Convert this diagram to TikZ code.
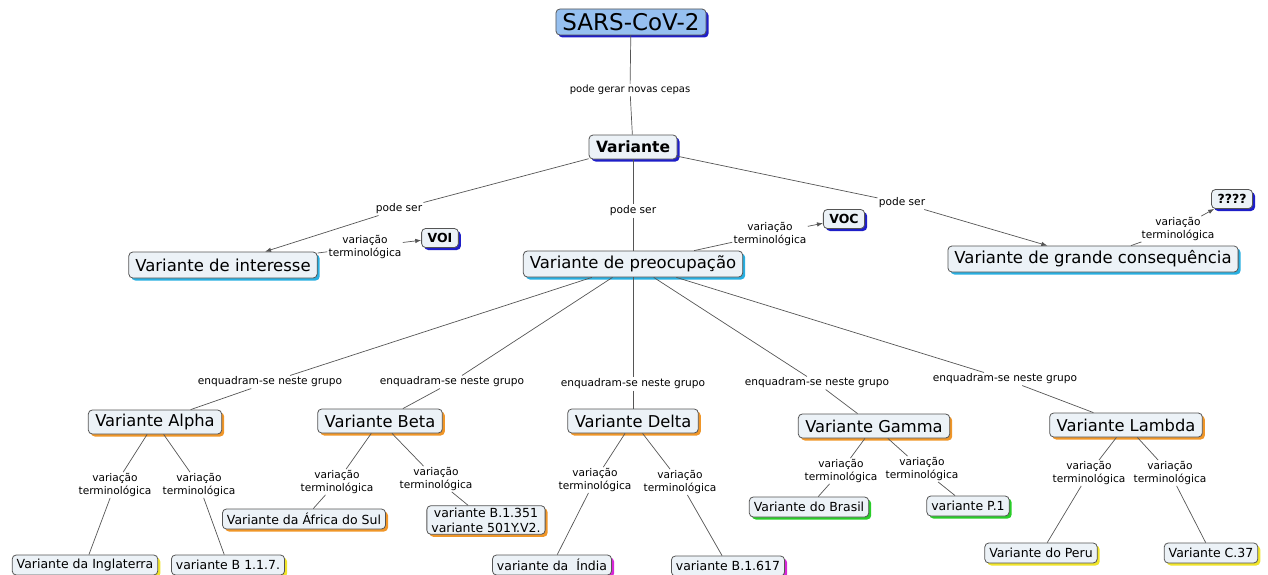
\documentclass[tikz,border=0pt]{standalone}
\usepackage{fontspec}
\setmainfont{DejaVu Sans}
\usepackage{tikz}
\usetikzlibrary{shadows,arrows.meta}

\definecolor{cfill}{RGB}{236,242,247}
\definecolor{sarsfill}{RGB}{150,192,240}
\definecolor{sblue}{RGB}{30,30,200}
\definecolor{scyan}{RGB}{40,175,225}
\definecolor{sorange}{RGB}{240,150,40}
\definecolor{syellow}{RGB}{240,228,40}
\definecolor{smagenta}{RGB}{215,40,215}
\definecolor{sgreen}{RGB}{40,205,40}
\definecolor{linkgray}{RGB}{85,85,85}

\begin{document}
\begin{tikzpicture}[
		x=1pt, y=-1pt,
		concept/.style={rectangle, rounded corners=4pt, draw=linkgray, fill=cfill, line width=0.8pt,
			inner ysep=2pt, general shadow={fill=#1, shadow xshift=2.5pt, shadow yshift=-2.5pt}},
		top/.style={concept=sblue, fill=sarsfill, inner xsep=6.5pt, minimum height=26pt, font=\fontsize{23}{26}\selectfont},
		main/.style={concept=sblue, inner xsep=7pt, minimum height=24pt, font=\bfseries\fontsize{15.5}{18}\selectfont},
		tag/.style={concept=sblue, inner xsep=6pt, minimum height=19pt, font=\bfseries\fontsize{12.5}{14}\selectfont},
		kind/.style={concept=scyan, inner xsep=6.5pt, minimum height=26pt, font=\fontsize{16.5}{19}\selectfont},
		group/.style={concept=sorange, inner xsep=7pt, minimum height=24pt, font=\fontsize{16.3}{19}\selectfont},
		leaf/.style={concept=#1, inner xsep=4.5pt, minimum height=20pt, align=center, font=\fontsize{12.5}{15}\selectfont},
		linkword/.style={fill=white, inner sep=1.2pt, align=center, font=\fontsize{10.6}{12.6}\selectfont},
		link/.style={draw=linkgray, line width=0.7pt},
		tip/.style={-{Latex[length=6pt,width=4.5pt]}}
	]
  \useasboundingbox (0,0) rectangle (1268,575);

  % top of the map
  \node (sars) [top] at (631,22) {SARS-CoV-2};
  \node (var) [main] at (633,147) {Variante};
  \node (l_cepas) [linkword, font=\fontsize{10}{12}\selectfont] at (630,90) {pode gerar novas cepas};
  \draw [link] (sars) -- (l_cepas) -- (var);

  % three kinds of variant
  \node (v_int) [kind] at (223,265) {Variante de interesse};
  \node (v_preoc) [kind] at (633,264) {Variante de preocupação};
  \node (v_grande) [kind] at (1093,259) {Variante de grande consequência};
  \node (l_ser1) [linkword] at (399,209) {pode ser};
  \node (l_ser2) [linkword] at (633,211) {pode ser};
  \node (l_ser3) [linkword] at (902,203) {pode ser};
  \draw [link, tip] (var) -- (l_ser1) -- (v_int);
  \draw [link] (var) -- (l_ser2) -- (v_preoc);
  \draw [link, tip] (var) -- (l_ser3) -- (v_grande);

  % short names
  \node (voi) [tag] at (440,238) {VOI};
  \node (voc) [tag] at (844,219) {VOC};
  \node (vq) [tag] at (1232,199) {????};
  \node (t_voi) [linkword] at (365,247) {variação\\terminológica};
  \node (t_voc) [linkword] at (770,234) {variação\\terminológica};
  \node (t_vq) [linkword] at (1178,229) {variação\\terminológica};
  \draw [link, tip] (v_int) -- (t_voi) -- (voi);
  \draw [link, tip] (v_preoc) -- (t_voc) -- (voc);
  \draw [link, tip] (v_grande) -- (t_vq) -- (vq);

  % variants of concern
  \node (alpha) [group] at (155,422) {Variante Alpha};
  \node (beta) [group] at (380,421) {Variante Beta};
  \node (delta) [group] at (633,421) {Variante Delta};
  \node (gamma) [group] at (874,426) {Variante Gamma};
  \node (lambda) [group] at (1126,425) {Variante Lambda};
  \node (e_alpha) [linkword] at (270,382) {enquadram-se neste grupo};
  \node (e_beta) [linkword] at (452,382) {enquadram-se neste grupo};
  \node (e_delta) [linkword] at (633,384) {enquadram-se neste grupo};
  \node (e_gamma) [linkword] at (817,383) {enquadram-se neste grupo};
  \node (e_lambda) [linkword] at (1005,379) {enquadram-se neste grupo};
  \draw [link] (v_preoc) -- (e_alpha) -- (alpha);
  \draw [link] (v_preoc) -- (e_beta) -- (beta);
  \draw [link] (v_preoc) -- (e_delta) -- (delta);
  \draw [link] (v_preoc) -- (e_gamma) -- (gamma);
  \draw [link] (v_preoc) -- (e_lambda) -- (lambda);

  % other names of each variant
  \node (a_ing) [leaf=syellow] at (85,565) {Variante da Inglaterra};
  \node (a_b117) [leaf=syellow] at (228,565) {variante B 1.1.7.};
  \node (b_afr) [leaf=sorange] at (304,519) {Variante da África do Sul};
  \node (b_351) [leaf=sorange] at (486,520) {variante B.1.351\\variante 501Y.V2.};
  \node (d_ind) [leaf=smagenta] at (552,565) {variante da\ \ Índia};
  \node (d_617) [leaf=smagenta] at (728,566) {variante B.1.617};
  \node (g_bra) [leaf=sgreen] at (809,507) {Variante do Brasil};
  \node (g_p1) [leaf=sgreen] at (968,506) {variante P.1};
  \node (l_peru) [leaf=syellow] at (1041,553) {Variante do Peru};
  \node (l_c37) [leaf=syellow] at (1211,553) {Variante C.37};

  \node (t_a1) [linkword] at (115,485) {variação\\terminológica};
  \node (t_a2) [linkword] at (199,485) {variação\\terminológica};
  \node (t_b1) [linkword] at (337,482) {variação\\terminológica};
  \node (t_b2) [linkword] at (436,479) {variação\\terminológica};
  \node (t_d1) [linkword] at (595,480) {variação\\terminológica};
  \node (t_d2) [linkword] at (680,482) {variação\\terminológica};
  \node (t_g1) [linkword] at (841,471) {variação\\terminológica};
  \node (t_g2) [linkword] at (922,469) {variação\\terminológica};
  \node (t_l1) [linkword] at (1089,473) {variação\\terminológica};
  \node (t_l2) [linkword] at (1170,473) {variação\\terminológica};
  \draw [link] (alpha) -- (t_a1) -- (a_ing);
  \draw [link] (alpha) -- (t_a2) -- (a_b117);
  \draw [link] (beta) -- (t_b1) -- (b_afr);
  \draw [link] (beta) -- (t_b2) -- (b_351);
  \draw [link] (delta) -- (t_d1) -- (d_ind);
  \draw [link] (delta) -- (t_d2) -- (d_617);
  \draw [link] (gamma) -- (t_g1) -- (g_bra);
  \draw [link] (gamma) -- (t_g2) -- (g_p1);
  \draw [link] (lambda) -- (t_l1) -- (l_peru);
  \draw [link] (lambda) -- (t_l2) -- (l_c37);
\end{tikzpicture}
\end{document}
